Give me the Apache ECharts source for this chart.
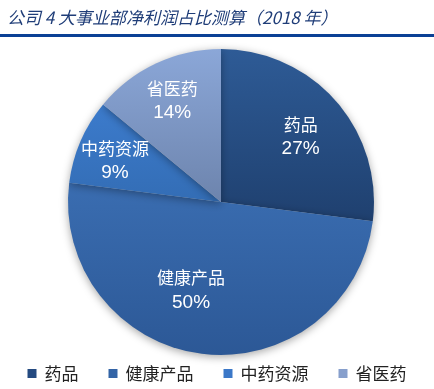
<!DOCTYPE html>
<html><head><meta charset="utf-8">
<script src="https://cdn.jsdelivr.net/npm/echarts@6/dist/echarts.min.js"></script>
<style>html,body{margin:0;padding:0;background:#fff}#c{width:434px;height:389px}</style>
</head><body><div id="c"></div>
<script>
const titleText = '公司 4 大事业部净利润占比测算（2018 年）';
const categories = ['药品', '健康产品', '中药资源', '省医药'];
const values = [27, 50, 9, 14];
const colorsTop = ['#2e5b96', '#3a6db1', '#3c7bcc', '#8ba7d8'];
const colorsBottom = ['#1f406f', '#2c5896', '#336db5', '#6d84ad'];
const legendColors = ['#244a80', '#3364a6', '#3b78c8', '#879fcc'];
const labelShift = [[20, -13], [-20, 9], [-33, -10], [-15, -30]];

const chart = echarts.init(document.getElementById('c'));
const data = categories.map((n, i) => ({
  name: n, value: values[i],
  itemStyle: { color: new echarts.graphic.LinearGradient(0, 0, 0, 1, [
    { offset: 0, color: colorsTop[i] }, { offset: 1, color: colorsBottom[i] }]) }
}));
chart.setOption({
  animation: false,
  title: {
    text: titleText, left: 2, top: 4,
    textStyle: { fontFamily: 'Noto Sans CJK SC', fontStyle: 'italic', fontWeight: 'normal', fontSize: 17, color: '#1f3d78' }
  },
  graphic: [{ type: 'rect', shape: { x: 0, y: 34, width: 434, height: 3 }, style: { fill: '#0b4095' }, z: 10 }],
  legend: {
    bottom: 2, left: 'center', itemWidth: 9, itemHeight: 9, itemGap: 30, icon: 'rect',
    data: categories.map((n, i) => ({ name: n, itemStyle: { color: legendColors[i] } })),
    textStyle: { fontFamily: 'Noto Sans CJK SC', fontSize: 17, color: '#222', padding: [0, 0, 0, 3] }
  },
  series: [{
    type: 'pie', center: [221, 202], radius: 153, startAngle: 90, clockwise: true,
    data: data,
    itemStyle: { shadowBlur: 8, shadowColor: 'rgba(0,0,0,0.35)', shadowOffsetY: 2 },
    emphasis: { disabled: true },
    label: {
      position: 'inside', color: '#fff', lineHeight: 24,
      formatter: p => '{n|' + p.name + '}\n{v|' + p.value + '%}',
      rich: {
        n: { fontFamily: 'Noto Sans CJK SC', fontSize: 17, color: '#fff', lineHeight: 25 },
        v: { fontFamily: 'Liberation Sans', fontSize: 19, color: '#fff', lineHeight: 24 }
      }
    },
    labelLayout: function (params) {
      const s = labelShift[params.dataIndex];
      return { dx: s[0], dy: s[1] };
    }
  }]
});
</script></body></html>
